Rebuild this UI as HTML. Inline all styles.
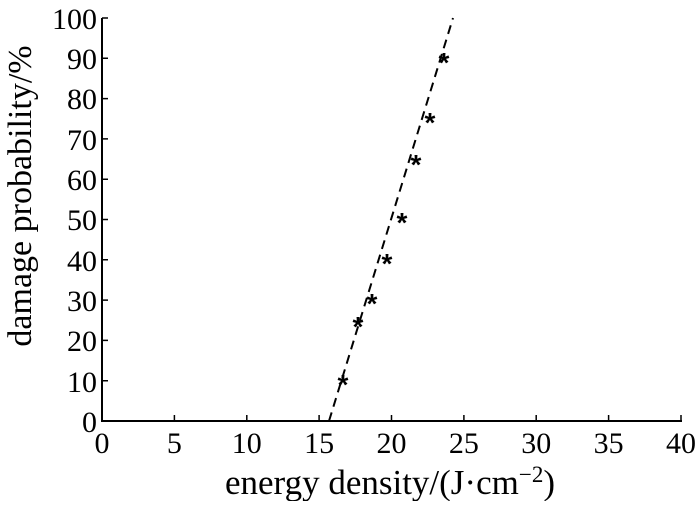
<!DOCTYPE html><html><head><style>body{margin:0;background:#fff}</style></head><body>
<svg width="700" height="501" xmlns="http://www.w3.org/2000/svg" font-family="Liberation Serif, serif" fill="#000">
<g stroke="#000" stroke-width="2">
<line x1="102" y1="18" x2="102" y2="422"/>
<line x1="101" y1="421" x2="682" y2="421"/>
</g>
<g stroke="#000" stroke-width="1.5">
<path d="M174.4 421v-6M246.8 421v-6M319.1 421v-6M391.5 421v-6M463.9 421v-6M536.2 421v-6M608.6 421v-6M681 421v-6"/>
<path d="M102 380.7h6M102 340.4h6M102 300.1h6M102 259.8h6M102 219.5h6M102 179.2h6M102 138.9h6M102 98.6h6M102 58.3h6M102 18h6"/>
</g>
<g font-size="30" text-anchor="end">
<text x="97" y="432">0</text><text x="97" y="392">10</text><text x="97" y="351">20</text><text x="97" y="311">30</text><text x="97" y="271">40</text><text x="97" y="230">50</text><text x="97" y="190">60</text><text x="97" y="150">70</text><text x="97" y="109">80</text><text x="97" y="69">90</text><text x="97" y="29">100</text>
</g>
<g font-size="30" text-anchor="middle">
<text x="102" y="453">0</text><text x="174.4" y="453">5</text><text x="246.8" y="453">10</text><text x="319.1" y="453">15</text><text x="391.5" y="453">20</text><text x="463.9" y="453">25</text><text x="536.2" y="453">30</text><text x="608.6" y="453">35</text><text x="681" y="453">40</text>
<text x="390" y="494" font-size="35">energy density/(J·cm<tspan dy="-12" font-size="23">−2</tspan><tspan dy="12">)</tspan></text>
<text transform="translate(31,196) rotate(-90)" font-size="34">damage probability/%</text>
</g>
<line x1="329" y1="421" x2="453" y2="18" stroke="#000" stroke-width="2" stroke-dasharray="9,6"/>
<g font-size="28" text-anchor="middle" font-family="Liberation Sans, sans-serif" font-weight="bold">
<text x="343" y="394">*</text><text x="358" y="336">*</text><text x="372" y="313">*</text><text x="387" y="273">*</text><text x="402" y="232">*</text><text x="416" y="174">*</text><text x="430" y="132">*</text><text x="444" y="72">*</text>
</g>
</svg>
</body></html>
